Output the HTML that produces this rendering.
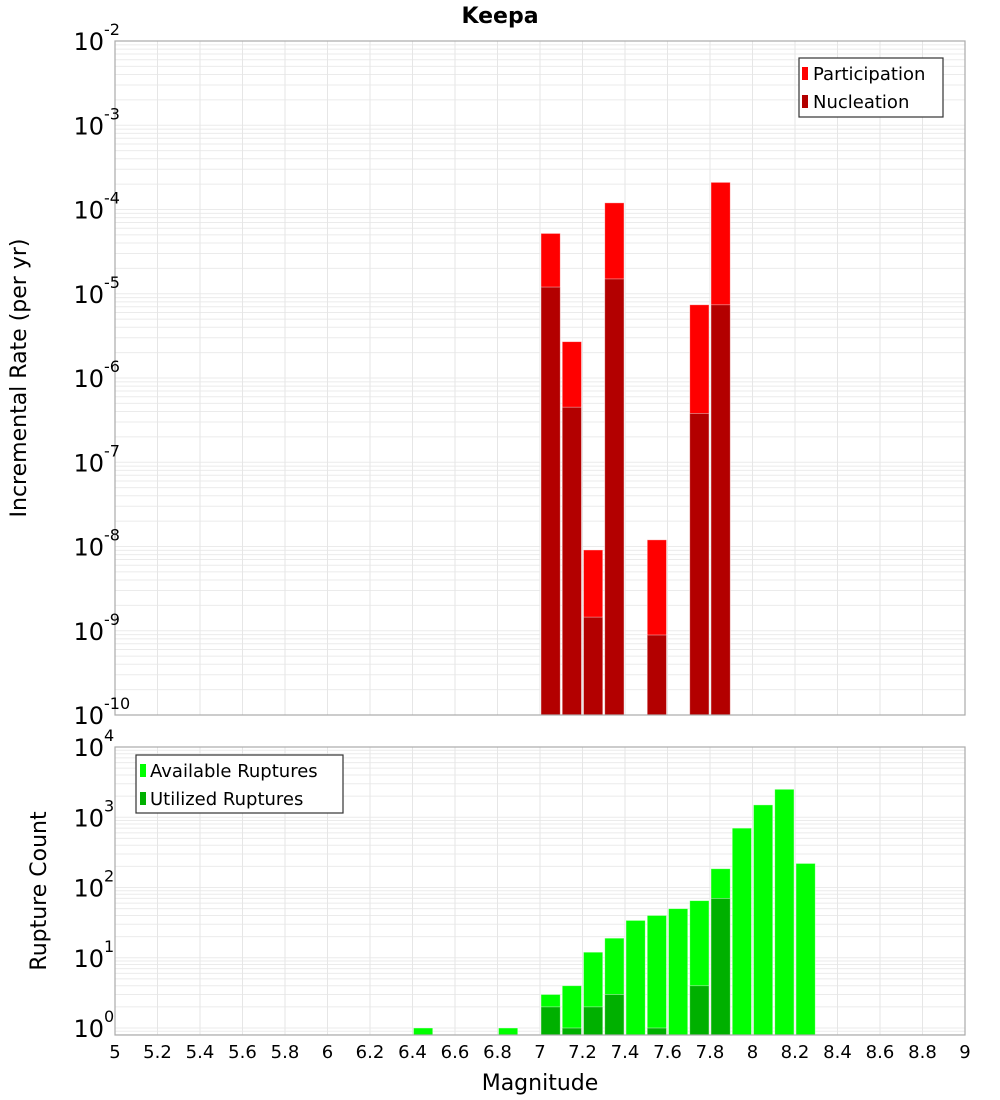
<!DOCTYPE html>
<html><head><meta charset="utf-8"><style>
html,body{margin:0;padding:0;background:#fff;}
svg{display:block;font-family:"DejaVu Sans","Liberation Sans",sans-serif;}
</style></head><body>
<svg id="c" width="1000" height="1100" xmlns="http://www.w3.org/2000/svg">
<text x="500" y="23" text-anchor="middle" font-size="22" font-weight="bold">Keepa</text>
<text transform="translate(26,378) rotate(-90)" text-anchor="middle" font-size="22">Incremental Rate (per yr)</text>
<text transform="translate(46,891) rotate(-90)" text-anchor="middle" font-size="22">Rupture Count</text>
<text x="540" y="1090" text-anchor="middle" font-size="22">Magnitude</text>
<g id="top"></g>
<g id="bot"></g>
<g>
<rect x="799" y="58" width="144" height="59" fill="#fff" stroke="#333" stroke-width="1.2"/>
<rect x="802" y="67" width="6" height="13" fill="#ff0000"/>
<text x="813" y="80" font-size="18">Participation</text>
<rect x="802" y="95" width="6" height="13" fill="#b30000"/>
<text x="813" y="108" font-size="18">Nucleation</text>
</g>
<g>
<rect x="136" y="755" width="207" height="58" fill="#fff" stroke="#333" stroke-width="1.2"/>
<rect x="140" y="764" width="6" height="13" fill="#00ff00"/>
<text x="150" y="777" font-size="18">Available Ruptures</text>
<rect x="140" y="792" width="6" height="13" fill="#00b000"/>
<text x="150" y="805" font-size="18">Utilized Ruptures</text>
</g>
</svg>
<script>
const rateMags = [7.0, 7.1, 7.2, 7.3, 7.5, 7.7, 7.8];
const participation = [5.2e-5, 2.7e-6, 9.1e-9, 1.2e-4, 1.2e-8, 7.4e-6, 2.1e-4];
const nucleation = [1.2e-5, 4.5e-7, 1.45e-9, 1.5e-5, 8.9e-10, 3.8e-7, 7.4e-6];
const countMags = [6.4, 6.8, 7.0, 7.1, 7.2, 7.3, 7.4, 7.5, 7.6, 7.7, 7.8, 7.9, 8.0, 8.1, 8.2];
const available = [1, 1, 3, 4, 12, 19, 34, 40, 50, 65, 185, 700, 1500, 2500, 220];
const utilizedMags = [7.0, 7.1, 7.2, 7.3, 7.5, 7.7, 7.8];
const utilized = [2, 1, 2, 3, 1, 4, 70];
const xTicks = [5,5.2,5.4,5.6,5.8,6,6.2,6.4,6.6,6.8,7,7.2,7.4,7.6,7.8,8,8.2,8.4,8.6,8.8,9];
const topExps = [-2,-3,-4,-5,-6,-7,-8,-9,-10];
const botExps = [4,3,2,1,0];

const NS = "http://www.w3.org/2000/svg";
const X0 = 115, X1 = 965;
const xs = m => X0 + (m - 5) / 4 * (X1 - X0);
const yTop = v => 41 + (-2 - Math.log10(v)) * 84.25;
const yBot = v => 1028 - Math.log10(v) * 70.25;
function mk(p, tag, a){const e=document.createElementNS(NS,tag);for(const k in a)e.setAttribute(k,a[k]);p.appendChild(e);return e;}

function frame(g, top, bot, ys, lo, hi){
  for(let d=lo; d<hi; d++) for(let k=1;k<10;k++){
    const y=ys(k*Math.pow(10,d));
    if(y<top-0.5||y>bot+0.5) continue;
    const l=mk(g,'line',{x1:X0,x2:X1,y1:y,y2:y,stroke:'#ebebeb','stroke-width':1});
    
    
  }
  xTicks.forEach(t=>{
    const l=mk(g,'line',{x1:xs(t),x2:xs(t),y1:top,y2:bot,stroke:'#e6e6e6','stroke-width':1});
    
    
  });
}
function border(g, top, bot){
  const r=mk(g,'rect',{x:X0,y:top,width:X1-X0,height:bot-top,fill:'none',stroke:'#aaa','stroke-width':1.2});
  
  
}
function bar(g, m, v, ys, base, color, name){
  const x=xs(m)+1, w=xs(m+0.1)-xs(m)-2, y=ys(v);
  const r=mk(g,'rect',{x:x,y:y,width:w,height:base-y,fill:color,stroke:'#fff','stroke-opacity':0.5,'stroke-width':0.8});
  
  
}
function ylab(g, e, y){
  const t=mk(g,'text',{x:104,y:y+9,'text-anchor':'end','font-size':24});
  
  
  t.textContent='10';
  const s=mk(g,'text',{x:104,y:y-6,'font-size':16});
  
  
  s.textContent=String(e);
}

const gt=document.getElementById('top');
frame(gt,41,715,yTop,-10,-2);
rateMags.forEach((m,i)=>bar(gt,m,participation[i],yTop,715,'#ff0000','participation-bar'));
rateMags.forEach((m,i)=>bar(gt,m,nucleation[i],yTop,715,'#b30000','nucleation-bar'));
border(gt,41,715);
topExps.forEach(e=>ylab(gt,e,yTop(Math.pow(10,e))));

const gb=document.getElementById('bot');
frame(gb,747,1035,yBot,-1,4);
countMags.forEach((m,i)=>bar(gb,m,available[i],yBot,1035,'#00ff00','available-bar'));
utilizedMags.forEach((m,i)=>bar(gb,m,utilized[i],yBot,1035,'#00b000','utilized-bar'));
border(gb,747,1035);
botExps.forEach(e=>ylab(gb,e,yBot(Math.pow(10,e))));
xTicks.forEach(t=>{
  const tx=mk(gb,'text',{x:xs(t),y:1058,'text-anchor':'middle','font-size':18});
  
  
  tx.textContent=String(t);
});
</script>
</body></html>
